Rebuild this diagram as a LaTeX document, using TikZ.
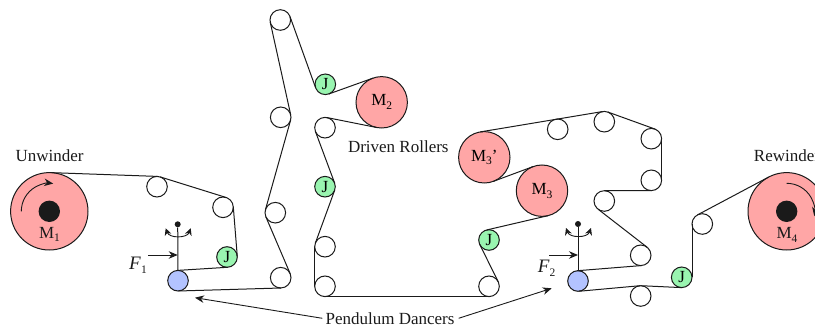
\documentclass[tikz,border=0pt]{standalone}
\usepackage{fontspec}
\setmainfont{Liberation Serif}
\usetikzlibrary{arrows.meta}
\newcommand\sbs[1]{\raisebox{-.22em}{\fontsize{11.5}{12}\selectfont #1}}
\definecolor{redfill}{HTML}{FFA6A6}
\definecolor{bluefill}{HTML}{B3C3FF}
\definecolor{greenfill}{HTML}{99F5B0}
\definecolor{inkc}{HTML}{1A1A1A}
\tikzset{
  pulley/.style={circle,draw=inkc,line width=1pt,inner sep=0pt,outer sep=0pt,minimum size=20.6pt},
  idler/.style={pulley,fill=white},
  jroll/.style={pulley,fill=greenfill,font=\fontsize{17}{18}\selectfont},
  dancer/.style={pulley,fill=bluefill},
  driven/.style={pulley,fill=redfill,minimum size=51.4pt,font=\fontsize{17}{18}\selectfont},
  reel/.style={pulley,fill=redfill,minimum size=77.4pt},
  hub/.style={circle,fill=inkc,inner sep=0pt,minimum size=21.4pt},
  pivot/.style={circle,fill=inkc,inner sep=0pt,minimum size=6pt},
  txt/.style={text=inkc,font=\fontsize{17}{20}\selectfont,inner sep=0pt},
  fsym/.style={text=inkc,font=\fontsize{19}{20}\selectfont,inner sep=0pt},
  reeltxt/.style={text=inkc,font=\fontsize{17}{18}\selectfont,inner sep=0pt},
  belt/.style={draw=inkc,line width=1pt},
  pointer/.style={draw=inkc,line width=.9pt,-{Stealth[length=9pt,width=7.5pt]}},
  swing/.style={draw=inkc,line width=.9pt,{Stealth[length=7pt,width=7pt]}-{Stealth[length=7pt,width=7pt]}},
}
\begin{document}
\begin{tikzpicture}[x=1pt,y=-1pt]
\useasboundingbox (0,0) rectangle (815,329);
\clip (0,0) rectangle (815,329);
\node[reel] (M1) at (49.3,211.3) {};
\node[hub] (H1) at (49.3,211.3) {};
\node[idler] (A) at (157,186.7) {};
\node[idler] (B) at (223,207.3) {};
\node[jroll] (J1) at (227,257) {J};
\node[dancer] (D1) at (178,280.7) {};
\node[idler] (C) at (275.3,212.7) {};
\node[idler] (Dd) at (280.7,277.7) {};
\node[idler] (E) at (280.3,20) {};
\node[idler] (F) at (280.7,117.3) {};
\node[jroll] (J2) at (325.3,84.3) {J};
\node[driven] (M2) at (381.7,102.3) {M\sbs{2}};
\node[idler] (G) at (325,127.7) {};
\node[jroll] (J3) at (325,186.7) {J};
\node[idler] (Hh) at (325,246.7) {};
\node[idler] (I) at (325,286.3) {};
\node[idler] (Jj) at (489,286.3) {};
\node[jroll] (J4) at (489,240) {J};
\node[driven] (M3p) at (484.3,157.3) {M\sbs{3}’};
\node[driven] (M3) at (542,190.7) {M\sbs{3}};
\node[idler] (K) at (557.7,129.3) {};
\node[idler] (L) at (604.3,121.7) {};
\node[idler] (N) at (651.3,138.7) {};
\node[idler] (O) at (651.3,180.3) {};
\node[idler] (P) at (604.3,201) {};
\node[idler] (Q) at (640.7,255.3) {};
\node[dancer] (D2) at (578,281) {};
\node[idler] (R) at (640.7,296) {};
\node[jroll] (J5) at (681.7,277.3) {J};
\node[idler] (S) at (702.3,224) {};
\node[reel] (M4) at (786.7,211.3) {};
\node[hub] (H4) at (786.7,211.3) {};
% web
\draw[belt] (M1.88) -- (A.88);
\draw[belt] (A.72.7) -- (B.72.7);
\draw[belt] (B.4.6) -- (J1.4.6);
\draw[belt] (J1.-86.5) -- (D1.93.5);
\draw[belt] (D1.-88.3) -- (Dd.-88.3);
\draw[belt] (Dd.23.1) -- (C.203.1);
\draw[belt] (C.164.4) -- (F.-15.6);
\draw[belt] (F.12.4) -- (E.192.4);
\draw[belt] (E.19.8) -- (J2.-160.2);
\draw[belt] (J2.-70.2) -- (M2.109.8);
\draw[belt] (M2.-101.3) -- (G.78.7);
\draw[belt] (G.-159.6) -- (J3.20.4);
\draw[belt] (J3.-20.1) -- (Hh.159.9);
\draw[belt] (Hh.180) -- (I.180);
\draw[belt] (I.-90) -- (Jj.-90);
\draw[belt] (Jj.26.4) -- (J4.206.4);
\draw[belt] (J4.103.1) -- (M3.-76.9);
\draw[belt] (M3.110.5) -- (M3p.290.5);
\draw[belt] (M3p.99.4) -- (L.99.4);
\draw[belt] (L.70.1) -- (N.70.1);
\draw[belt] (N.0) -- (O.0);
\draw[belt] (O.-90) -- (P.90);
\draw[belt] (P.-127.8) -- (Q.52.2);
\draw[belt] (Q.-85.4) -- (D2.94.6);
\draw[belt] (D2.-84.9) -- (R.95.1);
\draw[belt] (R.87.3) -- (J5.-92.7);
\draw[belt] (J5.0) -- (S.180);
\draw[belt] (S.118) -- (M4.118);
% reel rotation
\draw[pointer] ([shift={(180:28pt)}]M1.center) arc[start angle=180,end angle=82,radius=28pt];
\draw[pointer] ([shift={(90:28pt)}]M4.center) arc[start angle=90,end angle=-10,radius=28pt];
% pendulums
\node[pivot] (P1) at (177.7,224.3) {};
\node[pivot] (P2) at (578,224) {};
\draw[belt] (P1) -- (D1.90);
\draw[belt] (P2) -- (D2.90);
\draw[swing] ([shift={(-12,4)}]P1.center) to[out=-70,in=-110,looseness=1.1] ([shift={(13,4)}]P1.center);
\draw[swing] ([shift={(-12,4)}]P2.center) to[out=-70,in=-110,looseness=1.1] ([shift={(13,4)}]P2.center);
\coordinate (F1s) at (148.3,255);
\coordinate (F1e) at (177.7,255);
\coordinate (F2s) at (549,255);
\coordinate (F2e) at (578,255);
\draw[pointer] (F1s) -- (F1e);
\draw[pointer] (F2s) -- (F2e);
% labels
\node[txt] (tU) at (49.5,155.5) {Unwinder};
\node[txt] (tR) at (787,155.5) {Rewinder};
\node[txt] (tD) at (398.3,146.7) {Driven Rollers};
\node[reeltxt] (t1) at (49.5,234.5) {M\sbs{1}};
\node[reeltxt] (t4) at (787,235) {M\sbs{4}};
\node[fsym] (tF1) at (138,265.5) {\textit{F}\sbs{1}};
\node[fsym] (tF2) at (546.7,268.5) {\textit{F}\sbs{2}};
\node[txt] (tP) at (390,318.3) {Pendulum Dancers};
\coordinate (tipL) at (195,297.7);
\coordinate (tipR) at (551.7,288.3);
\draw[pointer] (tP.west) ++(-3,0) -- (tipL);
\draw[pointer] (tP.east) ++(4,0) -- (tipR);
\end{tikzpicture}
\end{document}
